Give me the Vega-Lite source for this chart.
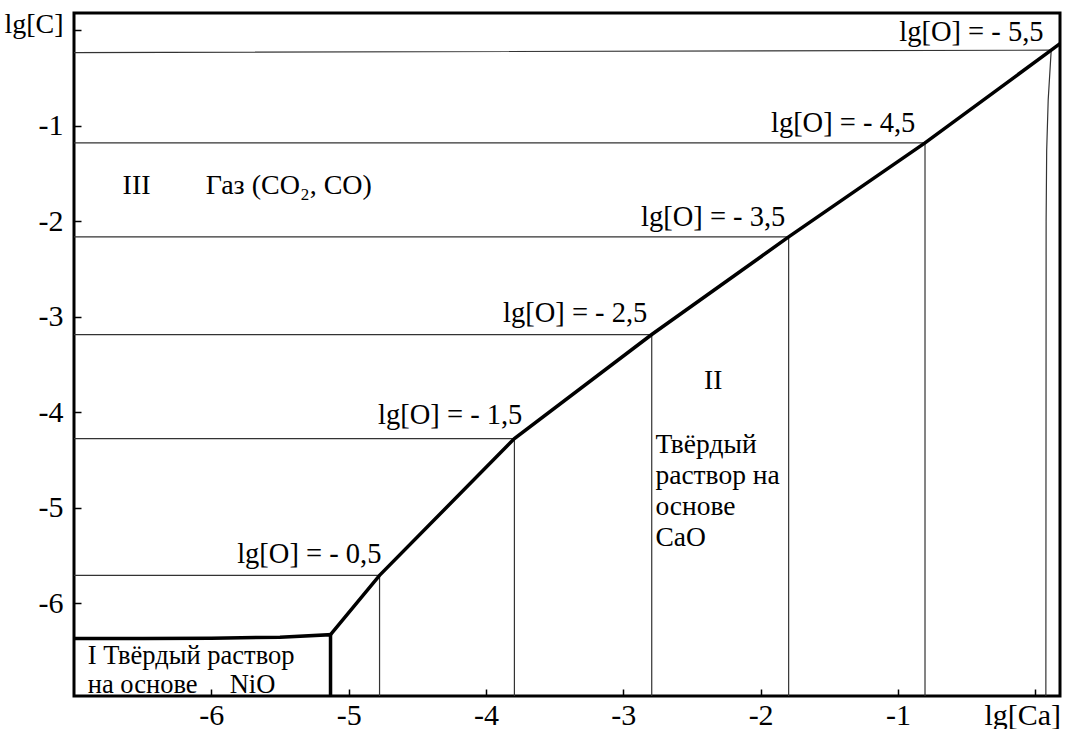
{
  "$schema": "https://vega.github.io/schema/vega-lite/v6.json",
  "width": 986,
  "height": 683,
  "autosize": {"type": "none"},
  "padding": {"left": 74, "top": 13, "right": 6, "bottom": 33},
  "background": "white",
  "config": {
    "view": {"stroke": "black", "strokeWidth": 3},
    "font": "Liberation Serif, DejaVu Serif, serif",
    "text": {"font": "Liberation Serif, DejaVu Serif, serif", "fontSize": 27, "color": "black"}
  },
  "datasets": {
    "levels": [
      {"lvl": "-0.5", "i": 0, "x": -7, "y": -5.707},
      {"lvl": "-0.5", "i": 1, "x": -4.775, "y": -5.707},
      {"lvl": "-0.5", "i": 2, "x": -4.775, "y": -7},
      {"lvl": "-1.5", "i": 0, "x": -7, "y": -4.275},
      {"lvl": "-1.5", "i": 1, "x": -3.793, "y": -4.275},
      {"lvl": "-1.5", "i": 2, "x": -3.793, "y": -7},
      {"lvl": "-2.5", "i": 0, "x": -7, "y": -3.186},
      {"lvl": "-2.5", "i": 1, "x": -2.793, "y": -3.186},
      {"lvl": "-2.5", "i": 2, "x": -2.793, "y": -7},
      {"lvl": "-3.5", "i": 0, "x": -7, "y": -2.164},
      {"lvl": "-3.5", "i": 1, "x": -1.796, "y": -2.164},
      {"lvl": "-3.5", "i": 2, "x": -1.796, "y": -7},
      {"lvl": "-4.5", "i": 0, "x": -7, "y": -1.18},
      {"lvl": "-4.5", "i": 1, "x": -0.803, "y": -1.18},
      {"lvl": "-4.5", "i": 2, "x": -0.803, "y": -7},
      {"lvl": "-5.5", "i": 0, "x": -7, "y": -0.234},
      {"lvl": "-5.5", "i": 1, "x": 0.116, "y": -0.209},
      {"lvl": "-5.5", "i": 2, "x": 0.094, "y": -0.73},
      {"lvl": "-5.5", "i": 3, "x": 0.083, "y": -1.26},
      {"lvl": "-5.5", "i": 4, "x": 0.079, "y": -2.0},
      {"lvl": "-5.5", "i": 5, "x": 0.077, "y": -7}
    ],
    "bounds": [
      {"b": "I", "i": 0, "x": -7, "y": -6.368},
      {"b": "I", "i": 1, "x": -6.5, "y": -6.368},
      {"b": "I", "i": 2, "x": -6, "y": -6.365},
      {"b": "I", "i": 3, "x": -5.5, "y": -6.355},
      {"b": "I", "i": 4, "x": -5.132, "y": -6.328},
      {"b": "I", "i": 5, "x": -5.132, "y": -7},
      {"b": "II", "i": 0, "x": -5.132, "y": -6.328},
      {"b": "II", "i": 1, "x": -4.775, "y": -5.707},
      {"b": "II", "i": 2, "x": -3.793, "y": -4.275},
      {"b": "II", "i": 3, "x": -2.793, "y": -3.186},
      {"b": "II", "i": 4, "x": -1.796, "y": -2.164},
      {"b": "II", "i": 5, "x": -0.803, "y": -1.18},
      {"b": "II", "i": 6, "x": 0.116, "y": -0.209},
      {"b": "II", "i": 7, "x": 0.18, "y": -0.141}
    ],
    "olabels": [
      {"t": "lg[O] = - 0,5", "x": -4.761, "y": -5.581},
      {"t": "lg[O] = - 1,5", "x": -3.735, "y": -4.126},
      {"t": "lg[O] = - 2,5", "x": -2.825, "y": -3.058},
      {"t": "lg[O] = - 3,5", "x": -1.82, "y": -2.052},
      {"t": "lg[O] = - 4,5", "x": -0.874, "y": -1.068},
      {"t": "lg[O] = - 5,5", "x": 0.06, "y": -0.115}
    ],
    "rlabels": [
      {"g": "gas", "t": "III", "x": -6.646, "y": -1.634},
      {"g": "gas", "t": "Газ (CO₂, CO)", "x": -6.041, "y": -1.634},
      {"g": "cao", "t": "II", "x": -2.412, "y": -3.675},
      {"g": "cao", "t": "Твёрдый", "x": -2.766, "y": -4.346},
      {"g": "cao", "t": "раствор на", "x": -2.766, "y": -4.67},
      {"g": "cao", "t": "основе", "x": -2.766, "y": -4.995},
      {"g": "cao", "t": "CaO", "x": -2.766, "y": -5.319},
      {"g": "nio", "t": "I Твёрдый раствор", "x": -6.9, "y": -6.555},
      {"g": "nio", "t": "на основе", "x": -6.9, "y": -6.85},
      {"g": "nio", "t": "NiO", "x": -5.866, "y": -6.85}
    ]
  },
  "encoding": {
    "x": {
      "field": "x", "type": "quantitative",
      "scale": {"domain": [-7, 0.18], "nice": false, "zero": false},
      "axis": {
        "title": null, "values": [-6, -5, -4, -3, -2, -1, 0], "grid": false, "domain": false,
        "tickSize": -7, "tickWidth": 1.5, "tickColor": "black",
        "labelPadding": 11, "labelFont": "Liberation Serif, DejaVu Serif, serif", "labelFontSize": 30, "labelColor": "black",
        "labelExpr": "datum.value == 0 ? 'lg[Ca]' : '-' + (-datum.value)",
        "labelOffset": {"condition": {"test": "datum.value == 0", "value": -13}, "value": 0},
        "labelFlush": false, "labelOverlap": false
      }
    },
    "y": {
      "field": "y", "type": "quantitative",
      "scale": {"domain": [-6.97, 0.18], "nice": false, "zero": false},
      "axis": {
        "title": null, "values": [-6, -5, -4, -3, -2, -1, 0], "grid": false, "domain": false,
        "tickSize": -7, "tickWidth": 1.5, "tickColor": "black",
        "labelPadding": 18, "labelFont": "Liberation Serif, DejaVu Serif, serif", "labelColor": "black",
        "labelFontSize": {"condition": {"test": "datum.value == 0", "value": 28}, "value": 30},
        "labelExpr": "datum.value == 0 ? 'lg[C]' : '-' + (-datum.value)",
        "labelOffset": {"condition": {"test": "datum.value == 0", "value": -6}, "value": 0},
        "labelFlush": false, "labelOverlap": false
      }
    }
  },
  "layer": [
    {
      "data": {"name": "levels"},
      "mark": {"type": "line", "stroke": "#333333", "strokeWidth": 1.2, "clip": true},
      "encoding": {"detail": {"field": "lvl"}, "order": {"field": "i", "type": "quantitative"}}
    },
    {
      "data": {"name": "bounds"},
      "mark": {"type": "line", "stroke": "black", "strokeWidth": 3.5, "clip": true, "strokeJoin": "miter"},
      "encoding": {"detail": {"field": "b"}, "order": {"field": "i", "type": "quantitative"}}
    },
    {
      "data": {"name": "olabels"},
      "mark": {"type": "text", "align": "right", "baseline": "alphabetic", "fontSize": 28.5},
      "encoding": {"text": {"field": "t"}}
    },
    {
      "data": {"name": "rlabels"},
      "transform": [{"filter": "datum.g == 'gas'"}],
      "mark": {"type": "text", "align": "left", "baseline": "middle", "fontSize": 28},
      "encoding": {"text": {"field": "t"}}
    },
    {
      "data": {"name": "rlabels"},
      "transform": [{"filter": "datum.g == 'cao'"}],
      "mark": {"type": "text", "align": "left", "baseline": "middle", "fontSize": 27.5},
      "encoding": {"text": {"field": "t"}}
    },
    {
      "data": {"name": "rlabels"},
      "transform": [{"filter": "datum.g == 'nio'"}],
      "mark": {"type": "text", "align": "left", "baseline": "middle", "fontSize": 26.5},
      "encoding": {"text": {"field": "t"}}
    }
  ]
}
